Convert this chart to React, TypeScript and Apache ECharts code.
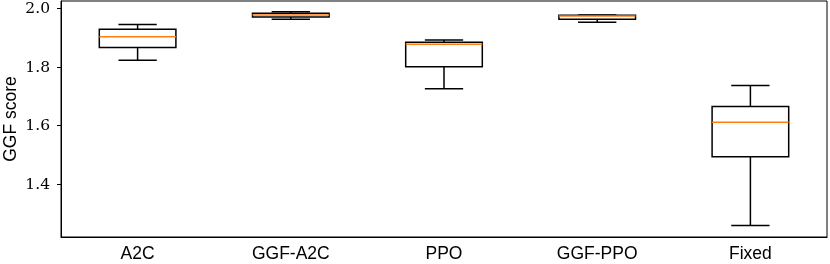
import React, { useEffect, useRef } from "react";
import * as echarts from "echarts";

const categories = ["A2C", "GGF-A2C", "PPO", "GGF-PPO", "Fixed"];
// [min, Q1, median, Q3, max]
const mins = [1.822, 1.963, 1.725, 1.952, 1.257];
const q1s = [1.866, 1.970, 1.800, 1.963, 1.492];
const medians = [1.903, 1.977, 1.877, 1.974, 1.610];
const q3s = [1.928, 1.983, 1.884, 1.976, 1.664];
const maxs = [1.945, 1.988, 1.892, 1.977, 1.736];
const yTicks = [1.4, 1.6, 1.8, 2.0];
const yTitle = "GGF score";

export default function App() {
  const ref = useRef<HTMLDivElement>(null);
  useEffect(() => {
    if (!ref.current) return;
    const chart = echarts.init(ref.current, null, { renderer: "svg" });
    const data = categories.map((_, i) => [i, mins[i], q1s[i], medians[i], q3s[i], maxs[i]]);
    chart.setOption({
      animation: false,
      grid: {
        left: 61,
        right: 3,
        top: 1,
        bottom: 27,
        containLabel: false,
        outerBoundsMode: "none",
        show: true,
        borderColor: "#000",
        borderWidth: 1,
        backgroundColor: "transparent",
      },
      graphic: [
        {
          type: "text",
          x: 9.5,
          y: 119,
          rotation: Math.PI / 2,
          style: {
            text: yTitle,
            fill: "#000",
            font: '17.5px "Liberation Sans"',
            align: "center",
            verticalAlign: "middle",
          },
        },
      ],
      xAxis: {
        type: "category",
        data: categories,
        boundaryGap: true,
        axisLine: { lineStyle: { color: "#000", width: 1 } },
        axisTick: { alignWithLabel: true, length: 4, lineStyle: { color: "#000" } },
        axisLabel: {
          color: "#000",
          fontFamily: "Liberation Sans",
          fontSize: 17.5,
          margin: 7,
        },
        splitLine: { show: false },
      },
      yAxis: {
        type: "value",
        min: 1.218,
        max: 2.025,
        axisLine: { show: true, lineStyle: { color: "#000", width: 1 } },
        axisTick: { show: true, length: 4, customValues: yTicks, lineStyle: { color: "#000" } },
        axisLabel: {
          color: "#000",
          fontFamily: "DejaVu Serif",
          fontSize: 15.5,
          margin: 11,
          customValues: yTicks,
          formatter: (v: number) => v.toFixed(1),
        },
        splitLine: { show: false },
      },
      series: [
        {
          type: "custom",
          data,
          encode: { x: 0, y: [1, 2, 3, 4, 5] },
          renderItem: (params: any, api: any) => {
            const x = api.value(0);
            const pMin = api.coord([x, api.value(1)]);
            const pQ1 = api.coord([x, api.value(2)]);
            const pMed = api.coord([x, api.value(3)]);
            const pQ3 = api.coord([x, api.value(4)]);
            const pMax = api.coord([x, api.value(5)]);
            const band = api.size([1, 0])[0];
            const hb = band * 0.25;
            const hc = band * 0.125;
            const cx = pMed[0];
            const ls = { stroke: "#000", lineWidth: 1.5, fill: "none" };
            return {
              type: "group",
              children: [
                { type: "line", shape: { x1: cx, y1: pQ3[1], x2: cx, y2: pMax[1] }, style: ls },
                { type: "line", shape: { x1: cx, y1: pQ1[1], x2: cx, y2: pMin[1] }, style: ls },
                { type: "line", shape: { x1: cx - hc, y1: pMax[1], x2: cx + hc, y2: pMax[1] }, style: ls },
                { type: "line", shape: { x1: cx - hc, y1: pMin[1], x2: cx + hc, y2: pMin[1] }, style: ls },
                {
                  type: "rect",
                  shape: { x: cx - hb, y: pQ3[1], width: hb * 2, height: pQ1[1] - pQ3[1] },
                  style: { stroke: "#000", lineWidth: 1.5, fill: "#fff" },
                },
                {
                  type: "line",
                  shape: { x1: cx - hb, y1: pMed[1], x2: cx + hb, y2: pMed[1] },
                  style: { stroke: "#ff7f0e", lineWidth: 1.5 },
                },
              ],
            };
          },
        },
      ],
    });
    return () => chart.dispose();
  }, []);
  return (
    <div
      ref={ref}
      style={{ position: "fixed", left: 0, top: 0, width: 830, height: 264 }}
    />
  );
}
